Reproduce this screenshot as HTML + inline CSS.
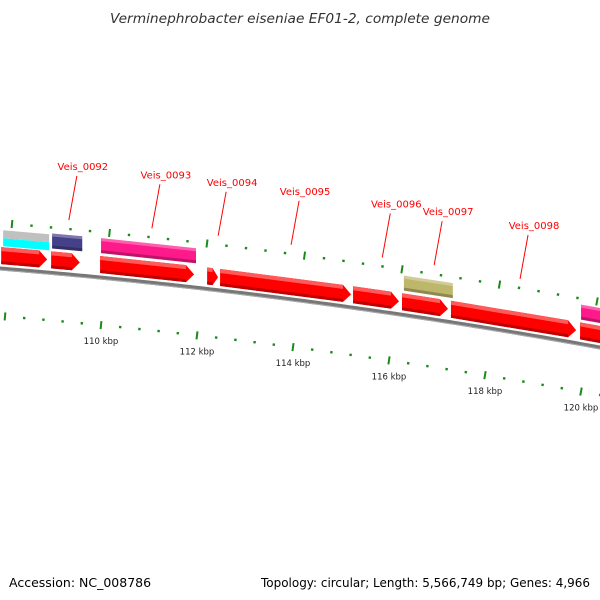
<!DOCTYPE html>
<html><head><meta charset="utf-8"><style>
body{margin:0;background:#fff;width:600px;height:600px;overflow:hidden}
svg{display:block;font-family:"DejaVu Sans","Liberation Sans",sans-serif}
</style></head><body>
<svg id="c" width="600" height="600">
<text x="300" y="23" text-anchor="middle" font-size="13" font-style="italic" fill="#333" textLength="380" lengthAdjust="spacingAndGlyphs">Verminephrobacter eiseniae EF01-2, complete genome</text>
<text x="9" y="587" font-size="12.5" fill="#000">Accession: NC_008786</text>
<text x="261" y="587" font-size="12.5" fill="#000" textLength="329" lengthAdjust="spacingAndGlyphs">Topology: circular; Length: 5,566,749 bp; Genes: 4,966</text>
</svg>
<script>
const fwdGenes=[[107.90,108.90],[108.94,109.58],[109.96,111.96],[112.19,112.46],[112.46,115.23],[115.23,116.23],[116.25,117.25],[117.27,119.92],[119.96,121.0]];
const featStarts=[107.94,108.96,109.98,116.29,119.98];
const featEnds=[108.94,109.63,112.0,117.35,121.0];
const featColors=["cyan","#45408a","#ff1a8c","#bdb76b","#ff1a8c"];
const labelNames=["Veis_0092","Veis_0093","Veis_0094","Veis_0095","Veis_0096","Veis_0097","Veis_0098"];
const labelKbp=[109.33,111.06,112.44,113.96,115.86,116.94,118.73];
const tickLabels=[110,112,114,116,118,120];
const NS="http://www.w3.org/2000/svg",svg=document.getElementById('c');
function X(k){return 101+(k-110)*48;}
function cy(x){return 267+0.0817*x+0.0000833*x*x;}
function mk(t,a,p){const e=document.createElementNS(NS,t);for(const k in a)e.setAttribute(k,a[k]);(p||svg).appendChild(e);return e;}
function band(x1,x2,o1,o2){return `${x1},${cy(x1)+o1} ${x2},${cy(x2)+o1} ${x2},${cy(x2)+o2} ${x1},${cy(x1)+o2}`;}
let d="";for(let x=-5;x<=605;x+=5)d+=(x<0?"M":"L")+x+","+(cy(x)+1.5);
let bb=mk('path',{d:d,stroke:"#777",'stroke-width':4,fill:"none"});


mk('path',{d:d.replace(/,([\d.]+)/g,(m,v)=>","+(+v+1.5)),stroke:"#aaa",'stroke-width':1,fill:"none"});
fwdGenes.forEach((g,i)=>{
 const x1=X(g[0])+1,x2=X(g[1])-1,tip=Math.min(8,(x2-x1)/2),t=-20,b=-3,m=(t+b)/2;
 const pts=`${x1},${cy(x1)+t} ${x2-tip},${cy(x2-tip)+t} ${x2},${cy(x2)+m} ${x2-tip},${cy(x2-tip)+b} ${x1},${cy(x1)+b}`;
 const p=mk('polygon',{points:pts,fill:"#f00"});
 
 
 mk('polygon',{points:band(x1,x2-tip,t,t+4),fill:"#ff5a5a"});
 mk('polygon',{points:band(x1,x2-tip,b-3,b),fill:"#c00000"});
});
featStarts.forEach((s,i)=>{
 const x1=X(s)+1,x2=X(featEnds[i])-1;
 if(i===0){
  const g=mk('polygon',{points:band(x1,x2,-37,-29),fill:"#c0c0c0"});
  
  
  mk('polygon',{points:band(x1,x2,-29,-21),fill:featColors[0]});
 }else{
  const p=mk('polygon',{points:band(x1,x2,-38,-23),fill:featColors[i]});
  
  
  mk('polygon',{points:band(x1,x2,-26,-23),fill:"rgba(0,0,0,0.25)"});
  mk('polygon',{points:band(x1,x2,-38,-35),fill:"rgba(255,255,255,0.3)"});
 }
});
function tick(x,off,major){const y=cy(x)+off,s=0.09+0.000166*x;
 const L=major?4:1.2;mk('line',{x1:x+s*L,y1:y-L,x2:x-s*L,y2:y+L,stroke:"#1a8a1a",'stroke-width':major?2:2.4});}
for(let k=106;k<=122.01;k+=0.4){const maj=Math.abs(k/2-Math.round(k/2))<0.01;
 const xo=12+(k-108)*48.75;if(xo>-3&&xo<603)tick(xo,-44,maj);
 const xi=5+(k-108)*48;if(xi>-3&&xi<603)tick(xi,49,maj);}
tickLabels.forEach((v,i)=>{const x=5+(v-108)*48;
 const t=mk('text',{x:x,y:cy(x)+68,'text-anchor':'middle','font-size':8.5,fill:"#222"});t.textContent=v+" kbp";
 
 });
labelNames.forEach((n,i)=>{const x=X(labelKbp[i]),ye=cy(x)-53,ys=ye-44;
 mk('line',{x1:x+8,y1:ys,x2:x,y2:ye,stroke:"#f00",'stroke-width':1});
 const t=mk('text',{x:x+14,y:ys-6,'text-anchor':'middle','font-size':10,fill:"#f00"});t.textContent=n;
 
 });
</script>
</body></html>
